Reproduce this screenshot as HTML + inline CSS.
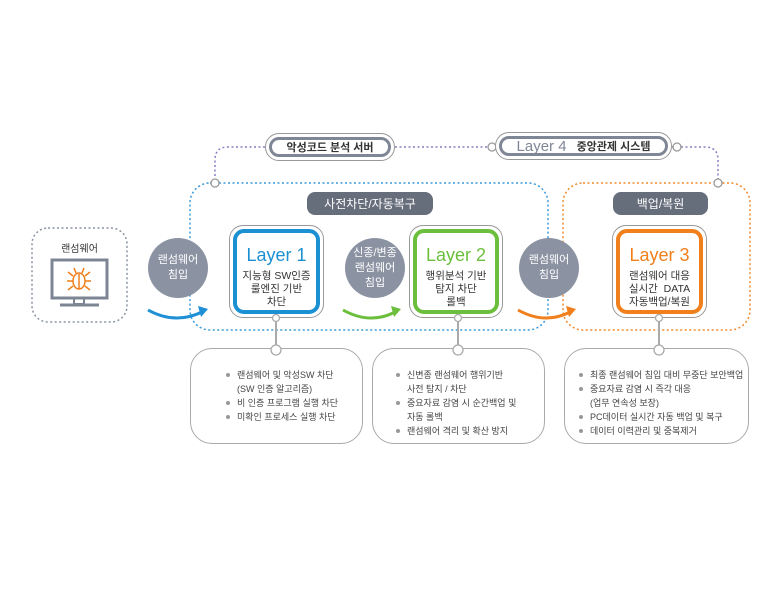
<!DOCTYPE html>
<html><head><meta charset="utf-8"><style>
body{margin:0;width:780px;height:600px;background:#fff;position:relative;overflow:hidden;font-family:"Liberation Sans","Noto Sans CJK KR",sans-serif;}
.a{position:absolute;box-sizing:border-box;}
.t{text-align:center;color:#333;}
.circ{border-radius:50%;background:#8b93a3;color:#fff;font-size:11px;line-height:15px;display:flex;align-items:center;justify-content:center;text-align:center;}
.hdr{background:#666d7b;color:#fff;font-size:12px;border-radius:8px;display:flex;align-items:center;justify-content:center;}
.lo{border:1px solid #999;border-radius:14px;background:#fff;}
.li{border-radius:11px;background:#fff;text-align:center;}
.li b{display:block;font-weight:normal;font-size:18px;margin-top:12px;margin-bottom:4px;}
.li span{font-size:10.5px;line-height:13px;color:#333;display:block;}
.bx{border:1px solid #aaa;border-radius:22px;background:#fff;font-size:9px;color:#444;line-height:14px;}
.bx ul{margin:0;padding:0;list-style:none;}
.bx li{position:relative;padding-left:12px;}
.bx li:before{content:"";position:absolute;left:1px;top:5px;width:4px;height:4px;border-radius:50%;background:#999;}
.pill{border:1px solid #999;border-radius:16px;background:#fff;padding:3px;}
.pill div{border:3px solid #7f8696;border-radius:13px;height:100%;box-sizing:border-box;display:flex;align-items:center;justify-content:center;font-size:11px;font-weight:bold;color:#333;}
</style></head><body>
<svg class="a" style="left:0;top:0" width="780" height="600">
<g fill="none" stroke-width="1.5" stroke-dasharray="2,2.5">
<path d="M265 147 H228 Q215 147 215 160 V183" stroke="#8e7cc3"/>
<path d="M395 147 H495" stroke="#8e7cc3"/>
<path d="M672 147 H705 Q718 147 718 160 V183" stroke="#8e7cc3"/>
<rect x="190" y="183" width="358" height="147" rx="20" stroke="#3a9ad9"/>
<rect x="563" y="183" width="187" height="147" rx="20" stroke="#f08a2c"/>
<rect x="32" y="228" width="95" height="94" rx="16" stroke="#8a93a3"/>
</g>
<g fill="#fff" stroke="#999" stroke-width="1.3">
<circle cx="215" cy="183" r="4"/><circle cx="492" cy="147" r="4"/><circle cx="677" cy="147" r="4"/><circle cx="718" cy="183" r="4"/>
</g>
<path d="M148 310 Q175 325 202 312" stroke="#1f8fd6" stroke-width="3" fill="none"/><path d="M198 306 L208 309 L201 317Z" fill="#1f8fd6"/>
<path d="M343 310 Q370 325 395 312" stroke="#6cbf3c" stroke-width="3" fill="none"/><path d="M391 306 L401 309 L394 317Z" fill="#6cbf3c"/>
<path d="M518 310 Q545 325 570 312" stroke="#f07f1c" stroke-width="3" fill="none"/><path d="M566 306 L576 309 L569 317Z" fill="#f07f1c"/>
<rect x="52" y="260" width="55" height="38" fill="none" stroke="#7d8595" stroke-width="3"/>
<rect x="74" y="298" width="10" height="6" fill="none" stroke="#7d8595" stroke-width="2"/>
<line x1="60" y1="305" x2="99" y2="305" stroke="#7d8595" stroke-width="3"/>
<g stroke="#f07f1c" stroke-width="1.5" fill="none">
<ellipse cx="79" cy="281" rx="6" ry="8"/><line x1="79" y1="274" x2="79" y2="289"/>
<path d="M73 276 L68 272 M73 281 H67 M73 286 L68 290 M85 276 L90 272 M85 281 H91 M85 286 L90 290 M76 273 L74 268 M82 273 L84 268"/>
</g>
</svg>
<div class="a pill" style="left:265px;top:133px;width:130px;height:28px"><div>악성코드 분석 서버</div></div>
<div class="a pill" style="left:495px;top:132px;width:177px;height:28px"><div><span style="font-size:15px;font-weight:normal;color:#7f8696;margin-right:10px">Layer 4</span>중앙관제 시스템</div></div>
<div class="a hdr" style="left:307px;top:192px;width:126px;height:23px">사전차단/자동복구</div>
<div class="a hdr" style="left:613px;top:192px;width:95px;height:23px">백업/복원</div>
<div class="a t" style="left:32px;top:240px;width:95px;font-size:10px">랜섬웨어</div>
<div class="a circ" style="left:148px;top:238px;width:60px;height:60px">랜섬웨어<br>침입</div>
<div class="a circ" style="left:345px;top:238px;width:60px;height:60px">신종/변종<br>랜섬웨어<br>침입</div>
<div class="a circ" style="left:519px;top:238px;width:60px;height:60px">랜섬웨어<br>침입</div>
<div class="a lo" style="left:229px;top:225px;width:95px;height:93px;padding:3px"><div class="li" style="border:4px solid #1b90d2;height:100%;box-sizing:border-box"><b style="color:#1b90d2">Layer 1</b><span>지능형 SW인증<br>룰엔진 기반<br>차단</span></div></div>
<div class="a lo" style="left:409px;top:225px;width:94px;height:93px;padding:3px"><div class="li" style="border:4px solid #6cbf3c;height:100%;box-sizing:border-box"><b style="color:#6cbf3c">Layer 2</b><span>행위분석 기반<br>탐지 차단<br>롤백</span></div></div>
<div class="a lo" style="left:612px;top:225px;width:95px;height:93px;padding:3px"><div class="li" style="border:4px solid #f07f1c;height:100%;box-sizing:border-box"><b style="color:#f07f1c">Layer 3</b><span>랜섬웨어 대응<br>실시간 &nbsp;DATA<br>자동백업/복원</span></div></div>
<div class="a bx" style="left:190px;top:348px;width:173px;height:96px;padding:19px 0 0 34px"><ul><li>랜섬웨어 및 악성SW 차단<br>(SW 인증 알고리즘)</li><li>비 인증 프로그램 실행 차단</li><li>미확인 프로세스 실행 차단</li></ul></div>
<div class="a bx" style="left:372px;top:348px;width:173px;height:96px;padding:19px 0 0 22px"><ul><li>신변종 랜섬웨어 행위기반<br>사전 탐지 / 차단</li><li>중요자료 감염 시 순간백업 및<br>자동 롤백</li><li>랜섬웨어 격리 및 확산 방지</li></ul></div>
<div class="a bx" style="left:564px;top:348px;width:185px;height:96px;padding:19px 0 0 13px"><ul><li>최종 랜섬웨어 침입 대비 무중단 보안백업</li><li>중요자료 감염 시 즉각 대응<br>(업무 연속성 보장)</li><li>PC데이터 실시간 자동 백업 및 복구</li><li>데이터 이력관리 및 중복제거</li></ul></div>
<svg class="a" style="left:0;top:0" width="780" height="600">
<g stroke="#aaa" stroke-width="2">
<line x1="276" y1="318" x2="276" y2="350"/><line x1="458" y1="318" x2="458" y2="350"/><line x1="659" y1="318" x2="659" y2="350"/>
</g>
<g fill="#fff" stroke="#aaa" stroke-width="1.3">
<circle cx="276" cy="318" r="3.5"/><circle cx="458" cy="318" r="3.5"/><circle cx="659" cy="318" r="3.5"/>
<circle cx="276" cy="350" r="5"/><circle cx="458" cy="350" r="5"/><circle cx="659" cy="350" r="5"/>
</g>
</svg>
</body></html>
